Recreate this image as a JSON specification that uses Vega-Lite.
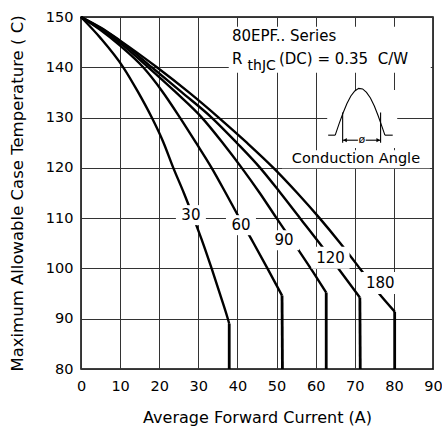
{
  "$schema": "https://vega.github.io/schema/vega-lite/v6.json",
  "width": 352,
  "height": 352,
  "autosize": {"type": "none"},
  "padding": {"left": 81, "top": 17, "right": 9, "bottom": 67},
  "config": {
    "font": "DejaVu Sans",
    "view": {"stroke": "#000", "strokeWidth": 1.5},
    "axis": {"labelColor": "#000", "titleColor": "#000", "titleFontWeight": "normal", "gridColor": "#333", "gridOpacity": 1, "gridWidth": 1, "ticks": false, "domain": false, "labelFlush": false}
  },
  "datasets": {
    "curves": [
      {"s":"30","i":0,"x":0,"y":150},{"s":"30","i":1,"x":5,"y":145.8},{"s":"30","i":2,"x":10.8,"y":140},{"s":"30","i":3,"x":14.5,"y":135.2},{"s":"30","i":4,"x":18.1,"y":130},{"s":"30","i":5,"x":21,"y":125.2},{"s":"30","i":6,"x":23.6,"y":120},{"s":"30","i":7,"x":26.3,"y":115},{"s":"30","i":8,"x":28.8,"y":110},{"s":"30","i":9,"x":31.2,"y":105},{"s":"30","i":10,"x":33.4,"y":100},{"s":"30","i":11,"x":35.5,"y":95},{"s":"30","i":12,"x":37.5,"y":90.1},{"s":"30","i":13,"x":37.9,"y":89},
      {"s":"60","i":0,"x":0,"y":150},{"s":"60","i":1,"x":5,"y":147.4},{"s":"60","i":2,"x":10,"y":144.3},{"s":"60","i":3,"x":15.9,"y":140},{"s":"60","i":4,"x":20.7,"y":135.3},{"s":"60","i":5,"x":25.3,"y":130},{"s":"60","i":6,"x":29.4,"y":125},{"s":"60","i":7,"x":33.4,"y":120},{"s":"60","i":8,"x":37,"y":115},{"s":"60","i":9,"x":40.5,"y":110},{"s":"60","i":10,"x":44,"y":105.2},{"s":"60","i":11,"x":47.6,"y":100.1},{"s":"60","i":12,"x":51.4,"y":94.6},
      {"s":"90","i":0,"x":0,"y":150},{"s":"90","i":1,"x":5,"y":147.6},{"s":"90","i":2,"x":10,"y":144.8},{"s":"90","i":3,"x":17.2,"y":140},{"s":"90","i":4,"x":24,"y":135.2},{"s":"90","i":5,"x":30.9,"y":130},{"s":"90","i":6,"x":36.2,"y":125},{"s":"90","i":7,"x":41.1,"y":120},{"s":"90","i":8,"x":45.7,"y":115},{"s":"90","i":9,"x":50,"y":110},{"s":"90","i":10,"x":53,"y":106.6},{"s":"90","i":11,"x":56,"y":103.2},{"s":"90","i":12,"x":59.4,"y":99.2},{"s":"90","i":13,"x":62.7,"y":95.2},
      {"s":"120","i":0,"x":0,"y":150},{"s":"120","i":1,"x":5,"y":147.8},{"s":"120","i":2,"x":10,"y":145.2},{"s":"120","i":3,"x":18.1,"y":140},{"s":"120","i":4,"x":25.8,"y":135},{"s":"120","i":5,"x":33.4,"y":130},{"s":"120","i":6,"x":39.8,"y":125},{"s":"120","i":7,"x":45.8,"y":120},{"s":"120","i":8,"x":51,"y":115},{"s":"120","i":9,"x":56,"y":110},{"s":"120","i":10,"x":61,"y":105},{"s":"120","i":11,"x":65.8,"y":100},{"s":"120","i":12,"x":71.3,"y":94.2},
      {"s":"180","i":0,"x":0,"y":150},{"s":"180","i":1,"x":5,"y":147.9},{"s":"180","i":2,"x":10,"y":145.3},{"s":"180","i":3,"x":19.4,"y":140},{"s":"180","i":4,"x":27.6,"y":135},{"s":"180","i":5,"x":35.2,"y":130},{"s":"180","i":6,"x":42.4,"y":125},{"s":"180","i":7,"x":49.2,"y":120},{"s":"180","i":8,"x":55.3,"y":115},{"s":"180","i":9,"x":61,"y":110},{"s":"180","i":10,"x":66.3,"y":105},{"s":"180","i":11,"x":71.3,"y":100},{"s":"180","i":12,"x":76.2,"y":95},{"s":"180","i":13,"x":80.2,"y":91.4}
    ],
    "drops": [
      {"s":"30","i":0,"x":37.9,"y":89},{"s":"30","i":1,"x":37.9,"y":80},
      {"s":"60","i":0,"x":51.4,"y":94.6},{"s":"60","i":1,"x":51.5,"y":80},
      {"s":"90","i":0,"x":62.7,"y":95.2},{"s":"90","i":1,"x":62.7,"y":80},
      {"s":"120","i":0,"x":71.3,"y":94.2},{"s":"120","i":1,"x":71.4,"y":80},
      {"s":"180","i":0,"x":80.2,"y":91.4},{"s":"180","i":1,"x":80.2,"y":80}
    ],
    "boxes": [
      {"x":28.1,"y":110.6,"kind":"l2"},{"x":40.9,"y":108.6,"kind":"l2"},{"x":51.9,"y":105.6,"kind":"l2"},{"x":63.8,"y":102.1,"kind":"l3"},{"x":76.5,"y":97.1,"kind":"l3"},
      {"x":63.6,"y":143.5,"kind":"annot"},{"x":70.3,"y":121.7,"kind":"cond"},{"x":71.9,"y":129.7,"kind":"wave"}
    ],
    "labels": [
      {"x":28.1,"y":110.6,"text":"30"},{"x":40.9,"y":108.6,"text":"60"},{"x":51.9,"y":105.6,"text":"90"},{"x":63.8,"y":102.1,"text":"120"},{"x":76.5,"y":97.1,"text":"180"}
    ],
    "annot": [
      {"x":38.6,"y":146.2,"text":"80EPF.. Series","k":"big"},
      {"x":38.6,"y":141.7,"text":"R","k":"big"},
      {"x":42.6,"y":140.2,"text":"thJC","k":"sub"},
      {"x":50.6,"y":141.6,"text":"(DC) = 0.35 \u00a0C/W","k":"big"}
    ],
    "cond": [
      {"x":70.3,"y":121.7,"text":"Conduction Angle"}
    ],
    "inset": [
      {"seg":"arch","i":0,"x":65.0,"y":126.5},{"seg":"arch","i":1,"x":66.0,"y":128.8},{"seg":"arch","i":2,"x":67.0,"y":130.9},{"seg":"arch","i":3,"x":68.0,"y":132.8},{"seg":"arch","i":4,"x":69.0,"y":134.3},{"seg":"arch","i":5,"x":70.0,"y":135.3},{"seg":"arch","i":6,"x":71.0,"y":135.8},{"seg":"arch","i":7,"x":72.0,"y":135.7},{"seg":"arch","i":8,"x":73.0,"y":135.0},{"seg":"arch","i":9,"x":74.0,"y":133.9},{"seg":"arch","i":10,"x":75.0,"y":132.3},{"seg":"arch","i":11,"x":76.0,"y":130.3},{"seg":"arch","i":12,"x":77.0,"y":128.1},{"seg":"arch","i":13,"x":77.7,"y":126.5},
      {"seg":"baseL","i":0,"x":63.2,"y":126.5},{"seg":"baseL","i":1,"x":65.0,"y":126.5},
      {"seg":"baseR","i":0,"x":77.7,"y":126.5},{"seg":"baseR","i":1,"x":79.7,"y":126.5},
      {"seg":"vL","i":0,"x":66.9,"y":125.0},{"seg":"vL","i":1,"x":66.9,"y":131.0},
      {"seg":"vR","i":0,"x":76.6,"y":125.0},{"seg":"vR","i":1,"x":76.6,"y":131.0},
      {"seg":"aL","i":0,"x":66.9,"y":125.5},{"seg":"aL","i":1,"x":70.8,"y":125.5},
      {"seg":"aR","i":0,"x":72.8,"y":125.5},{"seg":"aR","i":1,"x":76.6,"y":125.5}
    ],
    "heads": [
      {"x":67.5,"y":125.5,"dir":"left"},{"x":76.0,"y":125.5,"dir":"right"}
    ],
    "phi": [
      {"x":71.8,"y":125.5,"text":"ø"}
    ]
  },
  "encoding": {
    "x": {
      "field": "x", "type": "quantitative",
      "scale": {"domain": [0, 90], "nice": false, "zero": false},
      "axis": {"values": [0,10,20,30,40,50,60,70,80,90], "title": "Average Forward Current (A)", "grid": true, "labelFontSize": 14.5, "titleFontSize": 16, "labelPadding": 10, "titlePadding": 17}
    },
    "y": {
      "field": "y", "type": "quantitative",
      "scale": {"domain": [80, 150], "nice": false, "zero": false},
      "axis": {"values": [80,90,100,110,120,130,140,150], "title": "Maximum Allowable Case Temperature ( C)", "grid": true, "labelFontSize": 14.5, "titleFontSize": 16.5, "labelPadding": 8, "titlePadding": 20}
    }
  },
  "layer": [
    {
      "data": {"name": "curves"},
      "mark": {"type": "line", "color": "#000", "strokeWidth": 2.4, "strokeJoin": "round", "interpolate": "monotone"},
      "encoding": {"detail": {"field": "s", "type": "nominal"}, "order": {"field": "i", "type": "quantitative"}}
    },
    {
      "data": {"name": "drops"},
      "mark": {"type": "line", "color": "#000", "strokeWidth": 2.8, "strokeJoin": "round"},
      "encoding": {"detail": {"field": "s", "type": "nominal"}, "order": {"field": "i", "type": "quantitative"}}
    },
    {
      "data": {"name": "boxes"},
      "mark": {"type": "point", "filled": true, "color": "#fff", "opacity": 1, "size": 4, "strokeWidth": 0},
      "encoding": {
        "shape": {"field": "kind", "type": "nominal", "legend": null,
          "scale": {"domain": ["l2","l3","annot","cond","wave"],
            "range": ["M-15,-10H15V10H-15Z","M-19,-11H19V11H-19Z","M-101,-23H101V23H-101Z","M-74,-9H74V9H-74Z","M-35,-29H35V29H-35Z"]}}
      }
    },
    {
      "data": {"name": "labels"},
      "mark": {"type": "text", "fontSize": 15, "align": "center", "baseline": "middle", "color": "#000"},
      "encoding": {"text": {"field": "text"}}
    },
    {
      "data": {"name": "annot"},
      "transform": [{"filter": "datum.k == 'big'"}],
      "mark": {"type": "text", "fontSize": 15, "align": "left", "baseline": "middle", "color": "#000"},
      "encoding": {"text": {"field": "text"}}
    },
    {
      "data": {"name": "annot"},
      "transform": [{"filter": "datum.k == 'sub'"}],
      "mark": {"type": "text", "fontSize": 14, "align": "left", "baseline": "middle", "color": "#000"},
      "encoding": {"text": {"field": "text"}}
    },
    {
      "data": {"name": "cond"},
      "mark": {"type": "text", "fontSize": 14.5, "align": "center", "baseline": "middle", "color": "#000"},
      "encoding": {"text": {"field": "text"}}
    },
    {
      "data": {"name": "inset"},
      "mark": {"type": "line", "color": "#000", "strokeWidth": 1.1},
      "encoding": {"detail": {"field": "seg", "type": "nominal"}, "order": {"field": "i", "type": "quantitative"}}
    },
    {
      "data": {"name": "heads"},
      "transform": [{"filter": "datum.dir == 'left'"}],
      "mark": {"type": "point", "filled": true, "color": "#000", "size": 18, "opacity": 1, "shape": "triangle-left"}
    },
    {
      "data": {"name": "heads"},
      "transform": [{"filter": "datum.dir == 'right'"}],
      "mark": {"type": "point", "filled": true, "color": "#000", "size": 18, "opacity": 1, "shape": "triangle-right"}
    },
    {
      "data": {"name": "phi"},
      "mark": {"type": "text", "fontSize": 11, "align": "center", "baseline": "middle", "color": "#000"},
      "encoding": {"text": {"field": "text"}}
    }
  ]
}
